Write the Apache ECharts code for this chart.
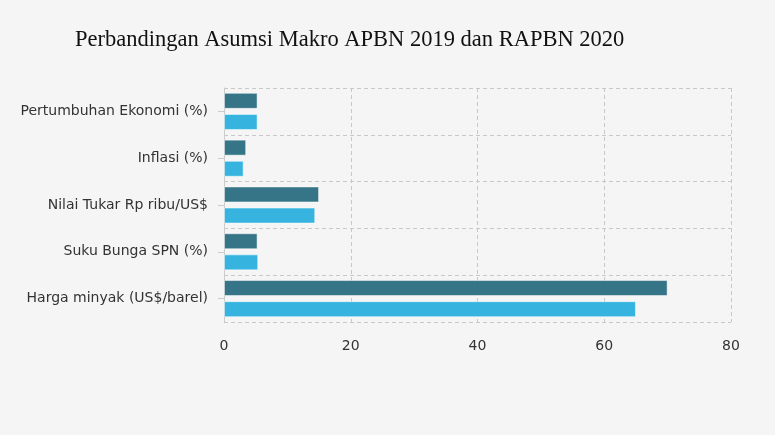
<!DOCTYPE html>
<html>
<head>
<meta charset="utf-8">
<script src="https://cdn.jsdelivr.net/npm/echarts@6/dist/echarts.min.js"></script>
<style>
  html, body { margin: 0; padding: 0; background: #f5f5f5; }
  #chart { width: 775px; height: 435px; }
</style>
</head>
<body>
<div id="chart"></div>
<script>
// kategori asumsi makro
const categories = [
  "Pertumbuhan Ekonomi (%)",
  "Inflasi (%)",
  "Nilai Tukar Rp ribu/US$",
  "Suku Bunga SPN (%)",
  "Harga minyak (US$/barel)"
]
const apbn2019 = [5.3, 3.5, 15.0, 5.3, 70]
const rapbn2020 = [5.3, 3.1, 14.4, 5.4, 65]
const xTicks = { min: 0, max: 80, interval: 20 }

const dashed = { show: true, lineStyle: { color: "#c8c8c8", type: [4, 3], width: 1 } }

let option = {
  backgroundColor: "#f5f5f5",
  title: {
    text: "Perbandingan Asumsi Makro APBN 2019 dan RAPBN 2020",
    left: 70,
    top: 24,
    textStyle: {
      fontFamily: "Liberation Serif",
      fontWeight: "normal",
      fontSize: 22.5,
      color: "#111111"
    }
  },
  grid: {
    left: 224,
    right: 44,
    top: 88,
    bottom: 113
  },
  xAxis: {
    type: "value",
    min: xTicks.min,
    max: xTicks.max,
    interval: xTicks.interval,
    axisLine: { show: false },
    axisTick: { show: false },
    splitLine: dashed,
    axisLabel: {
      fontFamily: "DejaVu Sans",
      fontSize: 14,
      color: "#333333",
      margin: 17
    }
  },
  yAxis: {
    type: "category",
    inverse: true,
    data: categories,
    axisLine: { show: true, lineStyle: { color: "#cccccc" } },
    axisTick: { show: true, length: 6, alignWithLabel: true, lineStyle: { color: "#cccccc" } },
    splitLine: dashed,
    axisLabel: {
      fontFamily: "DejaVu Sans",
      fontSize: 14,
      color: "#333333",
      margin: 16
    }
  },
  series: [
    {
      name: "APBN 2019",
      type: "bar",
      data: apbn2019,
      barWidth: 16,
      barGap: "32%",
      itemStyle: {
        color: "#2f7183",
        opacity: 0.97,
        borderColor: "rgba(255,255,255,0.5)",
        borderWidth: 1
      }
    },
    {
      name: "RAPBN 2020",
      type: "bar",
      data: rapbn2020,
      barWidth: 16,
      barGap: "32%",
      itemStyle: {
        color: "#30b2de",
        opacity: 0.97,
        borderColor: "rgba(255,255,255,0.5)",
        borderWidth: 1
      }
    }
  ]
}

const chartEl = echarts.init(document.getElementById("chart"))
chartEl.setOption(option)
</script>
</body>
</html>
